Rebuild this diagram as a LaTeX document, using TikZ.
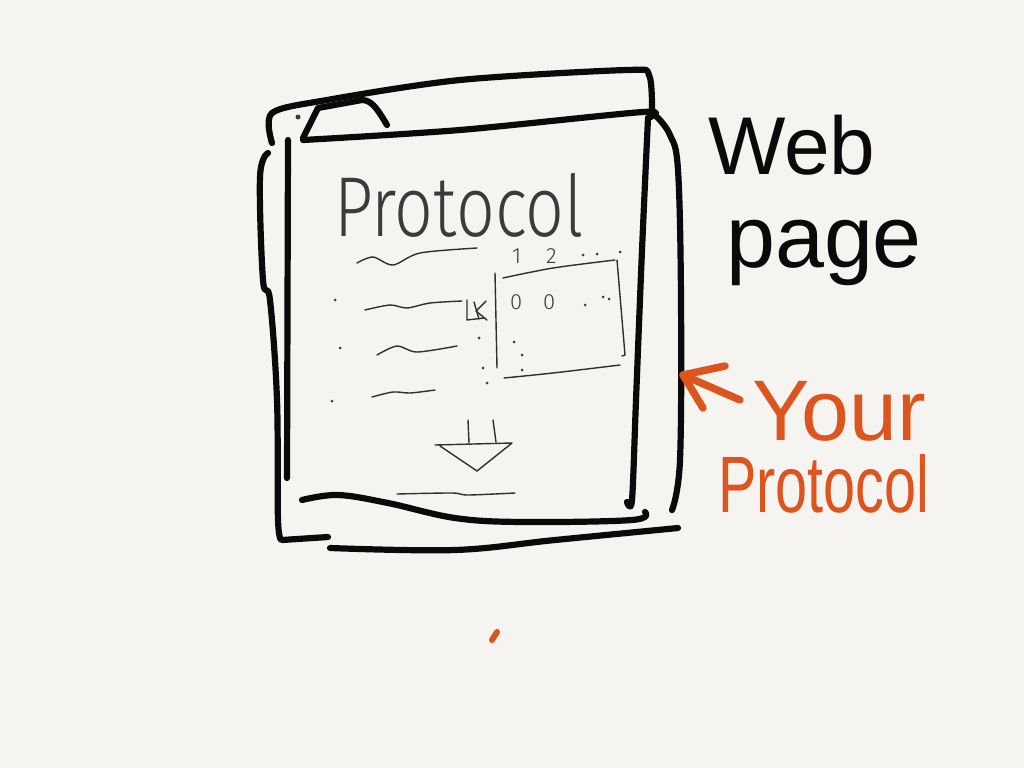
\documentclass[tikz,border=0pt]{standalone}
\usepackage{fontspec}
\setmainfont{Liberation Sans}
\newfontfamily\thinfont{Fira Sans Light}
\definecolor{paper}{HTML}{F5F4F1}
\definecolor{ink}{HTML}{0A0A0A}
\definecolor{orangeink}{HTML}{DC551E}
\begin{document}
\begin{tikzpicture}[x=1pt,y=-1pt,
  heavy/.style={line width=6.2pt, line cap=round, line join=round, ink},
  pen/.style={line width=1.4pt, line cap=round, line join=round, ink!85},
  speck/.style={circle, fill=ink!80, inner sep=0pt, minimum size=3pt},
  marker/.style={line width=7.5pt, line cap=round, line join=round, orangeink},
  bigword/.style={anchor=base west, inner sep=0pt, text=ink},
  thinword/.style={anchor=base west, inner sep=0pt, text=ink!80, font=\thinfont}
]
\fill[paper] (0,0) rectangle (1024,768);
\useasboundingbox (0,0) rectangle (1024,768);

% back sheet of the page
\draw[heavy] plot[smooth, tension=0.5] coordinates {(272,143) (272,113) (327,100) (460,80) (627,70) (649,75) (652,112)};
\draw[heavy] plot[smooth, tension=0.6] coordinates {(268,153) (260,177) (263,280) (270,300) (277,400) (278,520) (282,540)} -- (328,537);
\draw[heavy] plot[smooth, tension=0.6] coordinates {(657,117) (670,135) (678,170) (681,300) (680,460) (672,510)};
\draw[heavy] plot[smooth, tension=0.6] coordinates {(330,548) (455,550) (555,540) (678,528)};

% front sheet with its tab
\draw[heavy] (387,125) .. controls (378,110) and (372,100) .. (362,100) -- (318,108) -- (303,138);
\draw[heavy] plot[smooth, tension=0.5] coordinates {(303,140) (460,130) (643,112) (648,118)};
\draw[heavy] plot[smooth, tension=0.5] coordinates {(648,118) (642,250) (636,400) (632,500) (627,502)};
\draw[heavy] (288,140) -- (287,478);
\draw[heavy] plot[smooth, tension=0.6] coordinates {(302,500) (338,495) (388,503) (455,518) (522,522) (632,520) (645,512)};
\node[speck, minimum size=5pt] (corner) at (298,117) {};

% heading on the page
\node[thinword, font=\thinfont\fontsize{68}{68}\selectfont, yscale=1.25, text depth=0pt] (title) at (334,236) {Protocol};

% lines of text
\draw[pen] plot[smooth] coordinates {(357,263) (373,257) (393,265) (420,253) (477,248)};
\draw[pen] plot[smooth] coordinates {(365,310) (390,305) (407,308) (430,303) (462,301)};
\draw[pen] plot[smooth] coordinates {(377,355) (397,346) (417,352) (457,346)};
\draw[pen] plot[smooth] coordinates {(372,397) (393,392) (410,393) (435,390)};
\draw[pen] (467,300) -- (467,320) -- (484,318);
\draw[pen] (474,302) -- (479,319);
\draw[pen] (486,301) -- (476,311) -- (487,320);

% small table
\draw[pen] (495,273) -- (497,368);
\draw[pen] plot[smooth] coordinates {(503,278) (553,268) (615,260)};
\draw[pen] (617,260) -- (625,355) -- (622,356);
\draw[pen] plot[smooth] coordinates {(504,378) (553,373) (620,365)};
\node[thinword, font=\thinfont\fontsize{22}{22}\selectfont, text height=15pt, text depth=0pt] (colA) at (512,263) {1};
\node[thinword, font=\thinfont\fontsize{22}{22}\selectfont, text height=15pt, text depth=0pt] (colB) at (546,263) {2};
\node[thinword, font=\thinfont\fontsize{22}{22}\selectfont] (cellA) at (510,309) {0};
\node[thinword, font=\thinfont\fontsize{22}{22}\selectfont] (cellB) at (543,309) {0};

% scattered dots
\foreach \p/\q in {583/255, 597/254, 620/252, 585/305, 603/297, 609/299,
                   514/342, 522/355, 522/370, 479/338, 483/368, 487/383,
                   335/300, 340/348, 332/401}
  \node[speck] at (\p,\q) {};

% scroll-down arrow
\draw[pen] (468,420) -- (469,443);
\draw[pen] (493,420) -- (496,442);
\draw[pen] (435,445) -- (512,443) -- (477,471) -- (440,446);
\draw[pen] plot[smooth] coordinates {(397,494) (452,493) (468,495) (515,493)};

% labels beside the page
\node[bigword, font=\fontsize{82}{82}\selectfont] (web) at (708,174) {Web};
\node[bigword, font=\fontsize{88}{88}\selectfont] (page) at (726,267) {page};

\draw[marker] (740,400) -- (683,375);
\draw[marker] (725,366) -- (683,375) -- (703,408);
\node[bigword, text=orangeink, font=\fontsize{86}{86}\selectfont, text depth=0pt] (your) at (752,440) {Your};
\node[bigword, text=orangeink, font=\fontsize{80}{80}\selectfont, xscale=0.72, text height=58pt] (proto) at (718,512) {Protocol};
\draw[marker, line width=6pt] (492,640) -- (497,632);
\end{tikzpicture}
\end{document}
